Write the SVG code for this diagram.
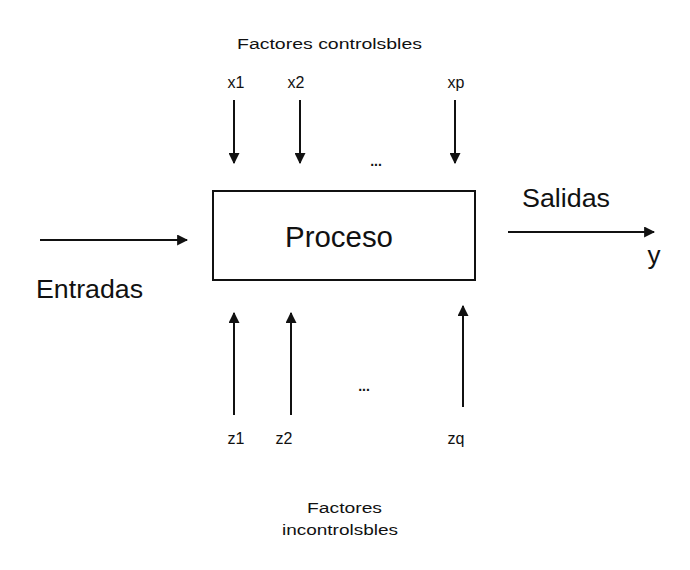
<svg xmlns="http://www.w3.org/2000/svg" width="690" height="570" viewBox="0 0 690 570">
<style>
text{font-family:"Liberation Sans",Arial,sans-serif;fill:#111}
.s{font-size:14px}
.m{font-size:16px}
.l{font-size:25px}
.c{stroke:#111;stroke-width:2;fill:none}
</style>
<defs>
<marker id="ah" viewBox="0 0 10 10" refX="9" refY="5" markerWidth="5.5" markerHeight="5.5" orient="auto" markerUnits="strokeWidth">
<path d="M0,0 L10,5 L0,10 z" fill="#111"/>
</marker>
</defs>
<rect width="690" height="570" fill="#fff"/>
<g id="title"><text class="s" x="237" y="49" textLength="185" lengthAdjust="spacingAndGlyphs">Factores controlsbles</text></g>
<g id="proceso">
<rect x="213" y="191" width="262" height="89" fill="none" stroke="#111" stroke-width="2"/>
<text x="285" y="247" font-size="29" textLength="108" lengthAdjust="spacingAndGlyphs">Proceso</text>
</g>
<g id="x1"><text class="m" x="236" y="88" text-anchor="middle">x1</text></g>
<g id="x2"><text class="m" x="296" y="88" text-anchor="middle">x2</text></g>
<g id="xp"><text class="m" x="456" y="88" text-anchor="middle">xp</text></g>
<g id="dots-top"><text class="s" x="376" y="166" text-anchor="middle" font-weight="bold">...</text></g>
<g id="entradas"><text class="l" x="36" y="298" textLength="107" lengthAdjust="spacingAndGlyphs">Entradas</text></g>
<g id="salidas"><text class="l" x="522" y="207" textLength="88" lengthAdjust="spacingAndGlyphs">Salidas</text></g>
<g id="y"><text x="654" y="264" text-anchor="middle" font-size="26">y</text></g>
<g id="z1"><text class="m" x="236" y="444" text-anchor="middle">z1</text></g>
<g id="z2"><text class="m" x="284" y="444" text-anchor="middle">z2</text></g>
<g id="zq"><text class="m" x="456" y="444" text-anchor="middle">zq</text></g>
<g id="dots-bottom"><text class="s" x="364" y="391" text-anchor="middle" font-weight="bold">...</text></g>
<g id="footer"><text class="s" x="307" y="513" textLength="75" lengthAdjust="spacingAndGlyphs">Factores</text><text class="s" x="282" y="535" textLength="116" lengthAdjust="spacingAndGlyphs">incontrolsbles</text></g>
<g id="connectors">
<line class="c" x1="234" y1="100" x2="234" y2="163" marker-end="url(#ah)"/>
<line class="c" x1="300" y1="100" x2="300" y2="163" marker-end="url(#ah)"/>
<line class="c" x1="455" y1="100" x2="455" y2="163" marker-end="url(#ah)"/>
<line class="c" x1="40" y1="240" x2="187" y2="240" marker-end="url(#ah)"/>
<line class="c" x1="508" y1="232" x2="654" y2="232" marker-end="url(#ah)"/>
<line class="c" x1="234" y1="415" x2="234" y2="313" marker-end="url(#ah)"/>
<line class="c" x1="291" y1="415" x2="291" y2="313" marker-end="url(#ah)"/>
<line class="c" x1="463" y1="407" x2="463" y2="306" marker-end="url(#ah)"/>
</g>
</svg>
